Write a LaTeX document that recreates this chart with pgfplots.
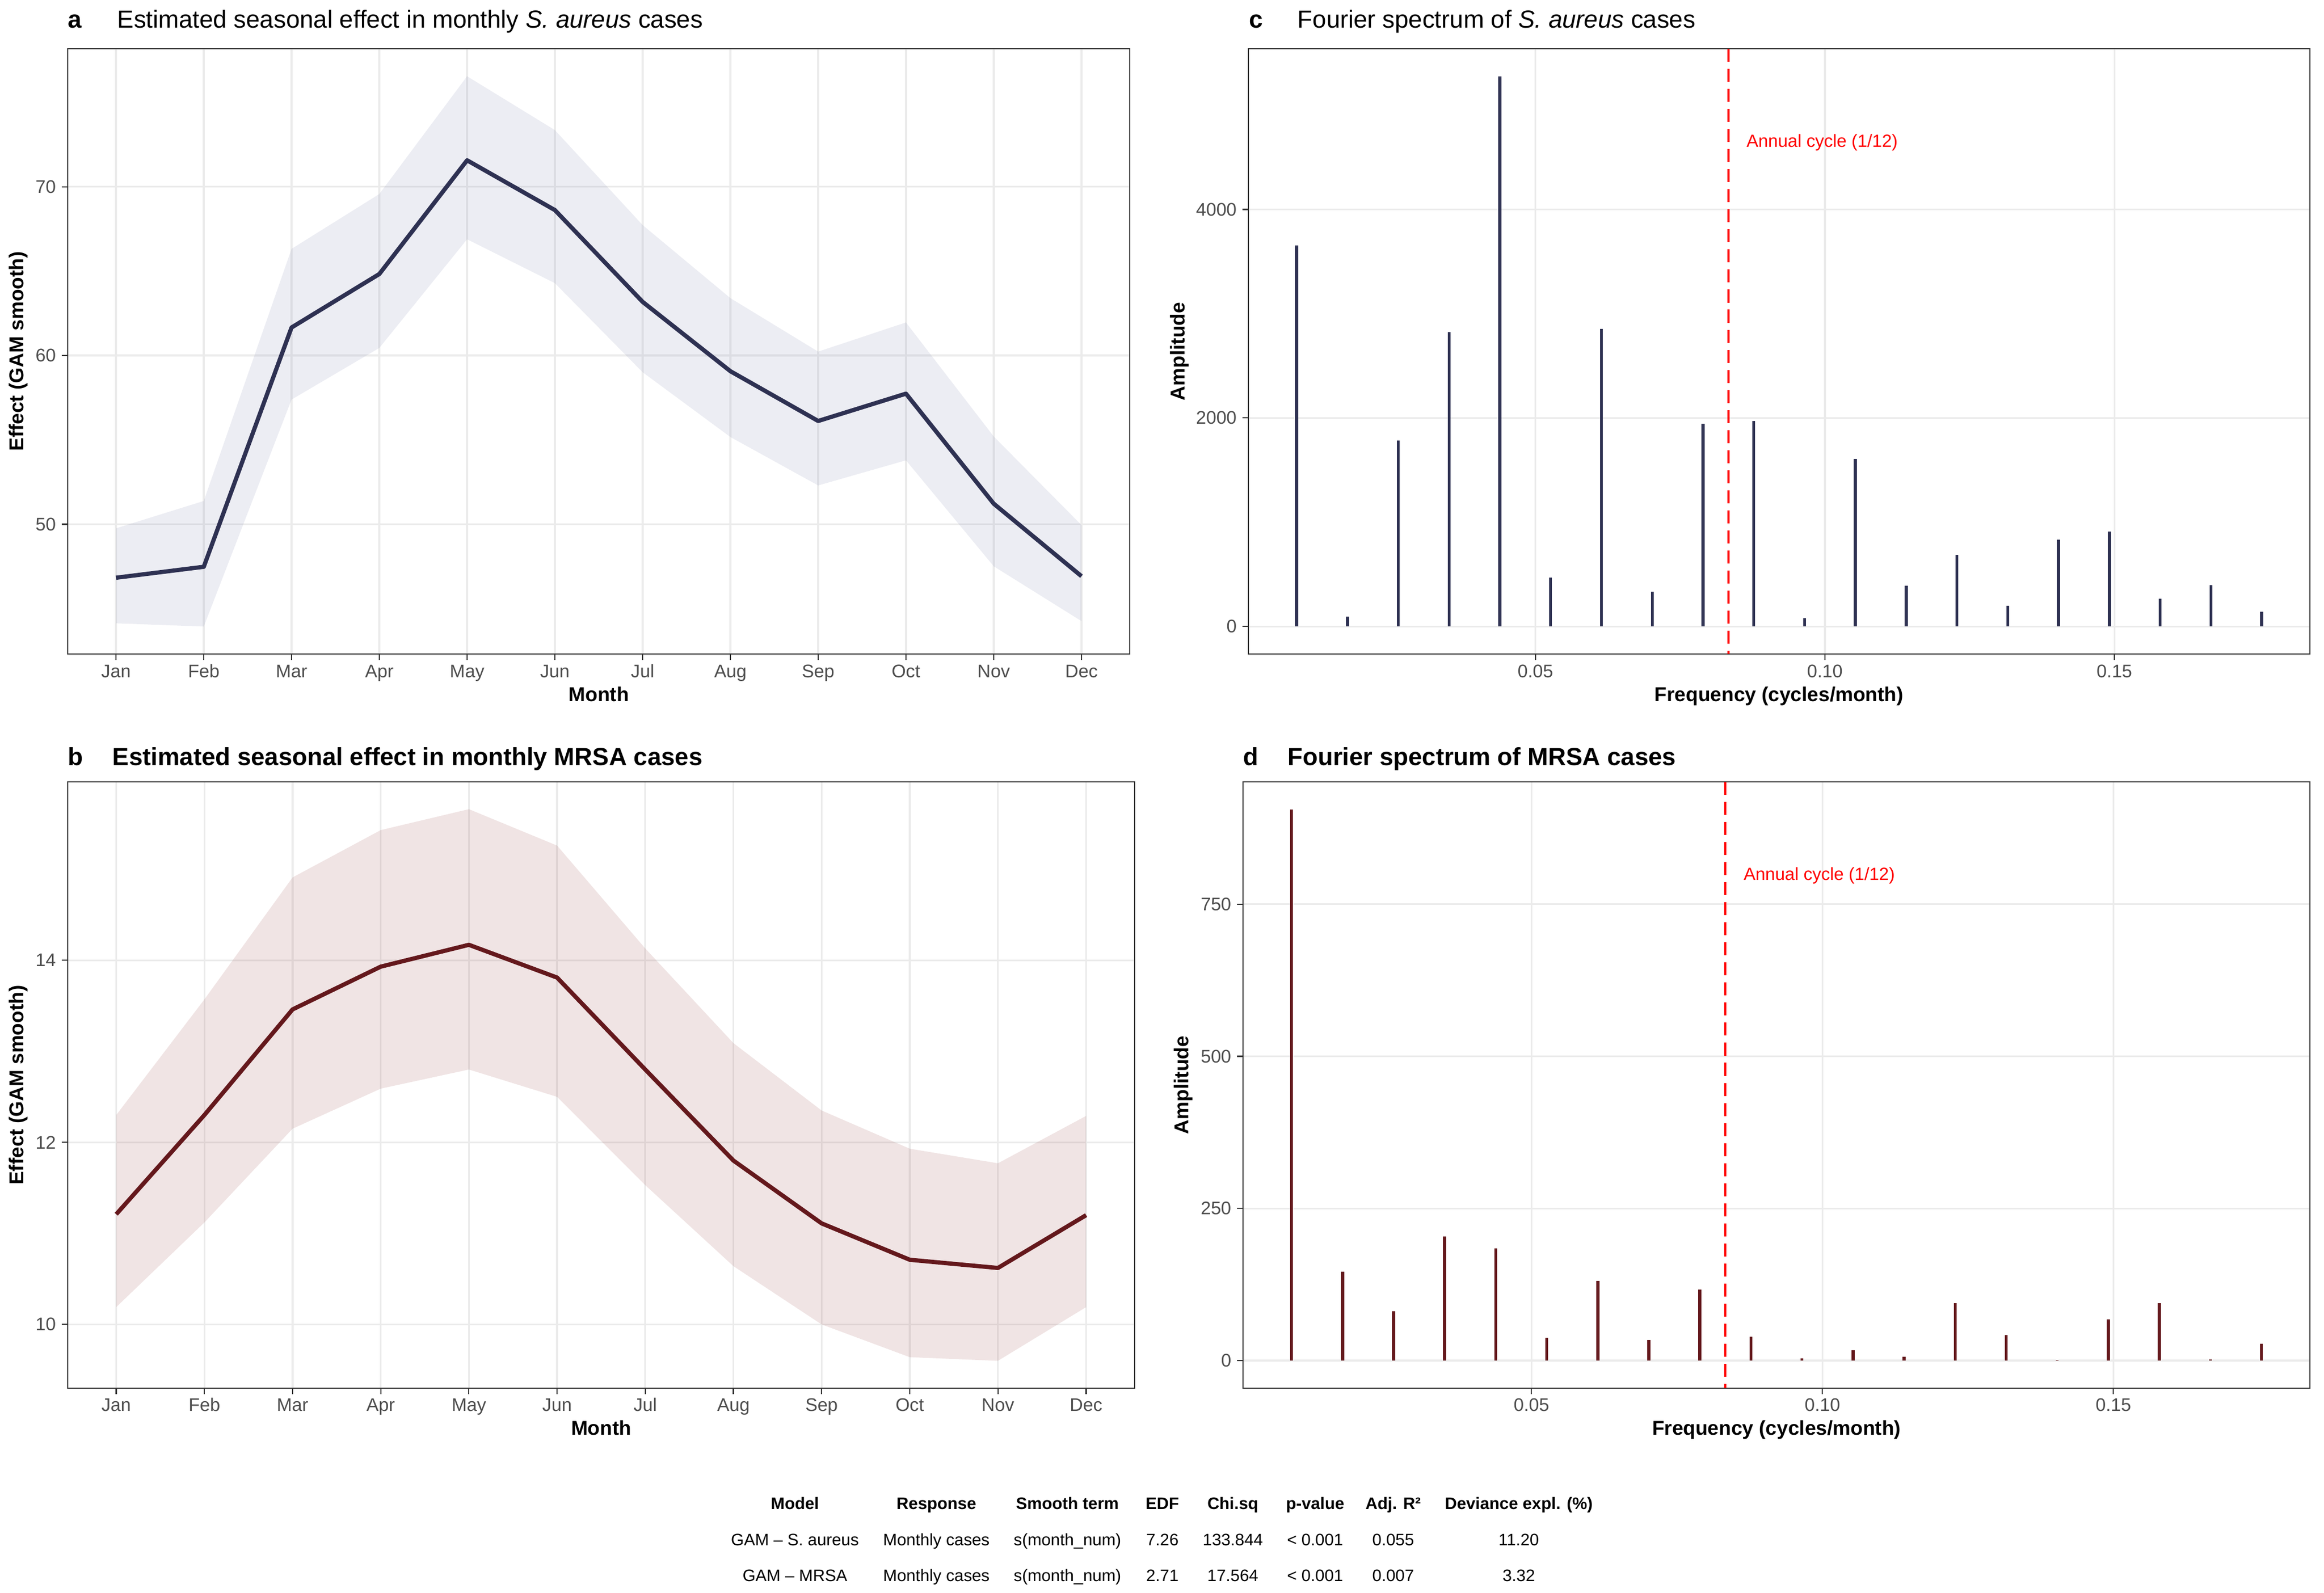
\documentclass[border=0pt]{standalone}
\usepackage{fontspec}
\setmainfont{Liberation Sans}
\usepackage{pgfplots}
\pgfplotsset{compat=1.18}
\usepackage{pgfplotstable}

\definecolor{navy}{RGB}{46,49,82}
\definecolor{maroon}{RGB}{100,24,28}
\definecolor{bandA}{RGB}{128,135,175}
\definecolor{bandB}{RGB}{155,75,75}
\definecolor{gridc}{RGB}{235,235,235}
\definecolor{axc}{RGB}{51,51,51}
\definecolor{tickc}{RGB}{77,77,77}

\pgfplotstableread{
m fit
1 46.83
2 47.48
3 61.66
4 64.83
5 71.57
6 68.62
7 63.18
8 59.07
9 56.12
10 57.74
11 51.22
12 46.92
}\saureus

\pgfplotstableread{
m fit
1 11.21
2 12.30
3 13.46
4 13.93
5 14.17
6 13.81
7 12.80
8 11.80
9 11.11
10 10.71
11 10.62
12 11.20
}\mrsa

\pgfplotstableread{
f a
0.008772 3655
0.017544 95
0.026316 1784
0.035088 2824
0.043860 5277
0.052632 468
0.061404 2855
0.070175 332
0.078947 1946
0.087719 1972
0.096491 79
0.105263 1605
0.114035 389
0.122807 686
0.131579 201
0.140351 835
0.149123 909
0.157895 267
0.166667 398
0.175439 144
}\specC

\pgfplotstableread{
f a
0.008772 906
0.017544 146
0.026316 81
0.035088 204
0.043860 184
0.052632 37
0.061404 131
0.070175 34
0.078947 117
0.087719 39
0.096491 4
0.105263 17
0.114035 6
0.122807 94
0.131579 42
0.140351 1
0.149123 68
0.157895 94
0.166667 2
0.175439 28
}\specD

\pgfplotsset{gg/.style={
  scale only axis,
  axis line style={draw=axc,line width=0.6pt},
  tick align=outside,
  major tick length=3pt,
  tick style={draw=axc,line width=0.6pt},
  xtick pos=left, ytick pos=left,
  grid=major,
  major grid style={draw=gridc,line width=0.9pt},
  minor tick num=0,
  every tick label/.append style={font=\fontsize{9.1}{11}\selectfont, text=tickc, inner sep=0pt},
  xticklabel style={anchor=base, yshift=-8.6pt},
  yticklabel style={anchor=east, xshift=-2.7pt},
  /pgf/number format/assume math mode=true,
  scaled ticks=false,
}}

\begin{document}
\begin{tikzpicture}
\path[use as bounding box] (0,0) rectangle (1158.03pt,-793.8pt);

% ---------- panel a ----------
\begin{axis}[gg, at={(33.75pt,-325.9pt)}, anchor=south west,
  width=529.2pt, height=301.6pt,
  xmin=0.45, xmax=12.55, ymin=42.31, ymax=78.18,
  xtick={1,...,12}, xticklabels={Jan,Feb,Mar,Apr,May,Jun,Jul,Aug,Sep,Oct,Nov,Dec},
  ytick={50,60,70}]
\addplot[fill=bandA, fill opacity=0.15, draw=none] coordinates {
 (1,49.76) (2,51.38) (3,66.32) (4,69.57) (5,76.55) (6,73.36) (7,67.73) (8,63.40) (9,60.23) (10,61.96) (11,55.20) (12,49.95)
 (12,44.26) (11,47.51) (10,53.79) (9,52.30) (8,55.17) (7,59.01) (6,64.29) (5,66.89) (4,60.45) (3,57.39) (2,43.94) (1,44.13)} -- cycle;
\addplot[navy, line width=2.1pt, line join=round] table[x=m,y=fit] \saureus;
\end{axis}

% ---------- panel c ----------
\begin{axis}[gg, at={(622.1pt,-325.9pt)}, anchor=south west,
  width=528.9pt, height=301.6pt,
  xmin=0.00044, xmax=0.18377, ymin=-264, ymax=5541,
  xtick={0.05,0.1,0.15}, xticklabels={0.05,0.10,0.15},
  ytick={0,2000,4000}, yticklabels={0,2000,4000}]
\addplot[ycomb, draw=navy, line width=1.45pt] table[x=f,y=a] \specC;
\addplot[draw=red, line width=1.1pt, dash pattern=on 6.5pt off 3.5pt] coordinates {(0.083333,5541) (0.083333,-264)};
\node[anchor=west, inner sep=0pt, text=red, font=\fontsize{8.8}{10}\selectfont] at (axis cs:0.0864,4644) {Annual cycle (1/12)};
\end{axis}

% ---------- panel b ----------
\begin{axis}[gg, at={(33.75pt,-691.7pt)}, anchor=south west,
  width=531.6pt, height=302.1pt,
  xmin=0.45, xmax=12.55, ymin=9.30, ymax=15.96,
  xtick={1,...,12}, xticklabels={Jan,Feb,Mar,Apr,May,Jun,Jul,Aug,Sep,Oct,Nov,Dec},
  ytick={10,12,14}]
\addplot[fill=bandB, fill opacity=0.15, draw=none] coordinates {
 (1,12.30) (2,13.57) (3,14.91) (4,15.43) (5,15.66) (6,15.26) (7,14.13) (8,13.09) (9,12.35) (10,11.93) (11,11.77) (12,12.29)
 (12,10.19) (11,9.60) (10,9.64) (9,10.00) (8,10.64) (7,11.53) (6,12.50) (5,12.80) (4,12.59) (3,12.15) (2,11.12) (1,10.19)} -- cycle;
\addplot[maroon, line width=2.1pt, line join=round] table[x=m,y=fit] \mrsa;
\end{axis}

% ---------- panel d ----------
\begin{axis}[gg, at={(619.4pt,-691.7pt)}, anchor=south west,
  width=531.6pt, height=302.1pt,
  xmin=0.00044, xmax=0.18377, ymin=-45.3, ymax=951,
  xtick={0.05,0.1,0.15}, xticklabels={0.05,0.10,0.15},
  ytick={0,250,500,750}, yticklabels={0,250,500,750}]
\addplot[ycomb, draw=maroon, line width=1.5pt] table[x=f,y=a] \specD;
\addplot[draw=red, line width=1.1pt, dash pattern=on 6.5pt off 3.5pt] coordinates {(0.083333,951) (0.083333,-45.3)};
\node[anchor=west, inner sep=0pt, text=red, font=\fontsize{8.8}{10}\selectfont] at (axis cs:0.0864,797) {Annual cycle (1/12)};
\end{axis}

% ---------- titles ----------
\tikzset{ttl/.style={anchor=base west, inner sep=0pt, font=\fontsize{12.3}{14}\selectfont}}
\node[ttl, font=\fontsize{12.3}{14}\selectfont\bfseries] at (33.75pt,-13.95pt) {a};
\node[ttl] at (58.3pt,-13.95pt) {Estimated seasonal effect in monthly \textit{S. aureus} cases};
\node[ttl, font=\fontsize{12.3}{14}\selectfont\bfseries] at (622.4pt,-13.95pt) {c};
\node[ttl] at (646.4pt,-13.95pt) {Fourier spectrum of \textit{S. aureus} cases};
\node[ttl, font=\fontsize{12.3}{14}\selectfont\bfseries] at (33.75pt,-381.5pt) {b};
\node[ttl, font=\fontsize{12.3}{14}\selectfont\bfseries] at (55.9pt,-381.5pt) {Estimated seasonal effect in monthly MRSA cases};
\node[ttl, font=\fontsize{12.3}{14}\selectfont\bfseries] at (619.4pt,-381.5pt) {d};
\node[ttl, font=\fontsize{12.3}{14}\selectfont\bfseries] at (641.5pt,-381.5pt) {Fourier spectrum of MRSA cases};

% ---------- axis titles ----------
\tikzset{axt/.style={inner sep=0pt, font=\fontsize{10}{12}\selectfont\bfseries}}
\node[axt, rotate=90] at (9.2pt,-175.1pt) {Effect (GAM smooth)};
\node[axt, rotate=90] at (587.8pt,-175.1pt) {Amplitude};
\node[axt, rotate=90] at (9.2pt,-540.7pt) {Effect (GAM smooth)};
\node[axt, rotate=90] at (589.7pt,-540.7pt) {Amplitude};
\node[axt, anchor=base] at (298.4pt,-349.4pt) {Month};
\node[axt, anchor=base] at (886.5pt,-349.4pt) {Frequency (cycles/month)};
\node[axt, anchor=base] at (299.6pt,-715.0pt) {Month};
\node[axt, anchor=base] at (885.2pt,-715.0pt) {Frequency (cycles/month)};

% ---------- table ----------
\tikzset{th/.style={anchor=base, inner sep=0pt, font=\fontsize{8.3}{10}\selectfont\bfseries},
         td/.style={anchor=base, inner sep=0pt, font=\fontsize{8.3}{10}\selectfont}}
\node[th] at (396.1pt,-752.2pt) {Model};
\node[th] at (466.6pt,-752.2pt) {Response};
\node[th] at (531.9pt,-752.2pt) {Smooth term};
\node[th] at (579.2pt,-752.2pt) {EDF};
\node[th] at (614.3pt,-752.2pt) {Chi.sq};
\node[th] at (655.3pt,-752.2pt) {p-value};
\node[th] at (694.2pt,-752.2pt) {Adj. R²};
\node[th] at (756.8pt,-752.2pt) {Deviance expl. (\%)};

\node[td] at (396.1pt,-770.3pt) {GAM – S. aureus};
\node[td] at (466.6pt,-770.3pt) {Monthly cases};
\node[td] at (531.9pt,-770.3pt) {s(month\_num)};
\node[td] at (579.2pt,-770.3pt) {7.26};
\node[td] at (614.3pt,-770.3pt) {133.844};
\node[td] at (655.3pt,-770.3pt) {< 0.001};
\node[td] at (694.2pt,-770.3pt) {0.055};
\node[td] at (756.8pt,-770.3pt) {11.20};

\node[td] at (396.1pt,-787.9pt) {GAM – MRSA};
\node[td] at (466.6pt,-787.9pt) {Monthly cases};
\node[td] at (531.9pt,-787.9pt) {s(month\_num)};
\node[td] at (579.2pt,-787.9pt) {2.71};
\node[td] at (614.3pt,-787.9pt) {17.564};
\node[td] at (655.3pt,-787.9pt) {< 0.001};
\node[td] at (694.2pt,-787.9pt) {0.007};
\node[td] at (756.8pt,-787.9pt) {3.32};
\end{tikzpicture}
\end{document}
